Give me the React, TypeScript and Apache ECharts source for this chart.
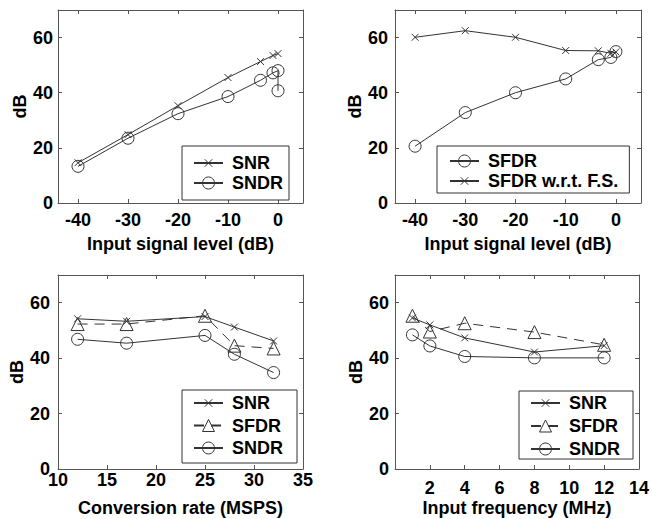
import React, { useEffect, useRef } from "react";
import * as echarts from "echarts";

// ---- data ----
const tlSnr: number[][] = [[-40, 14.6], [-30, 24.8], [-20, 35.3], [-10, 45.5], [-3.5, 51.3], [-1, 53.5], [0, 54.2]];
const tlSndr: number[][] = [[-40, 13.3], [-30, 23.5], [-20, 32.4], [-10, 38.6], [-3.5, 44.5], [-1, 47.2], [0, 48], [0, 40.7]];

const trSfdr: number[][] = [[-40, 20.6], [-30, 32.8], [-20, 40], [-10, 45], [-3.5, 52], [-1, 52.8], [0, 54.9]];
const trSfdrFs: number[][] = [[-40, 60.1], [-30, 62.5], [-20, 60.1], [-10, 55.3], [-3.5, 55.2], [-1, 54.3], [0, 54.8]];

const blSnr: number[][] = [[12, 54.2], [17, 53.3], [25, 55], [28, 51.2], [32, 46.2]];
const blSfdr: number[][] = [[12, 52.3], [17, 52.3], [25, 55.3], [28, 44.5], [32, 43.5]];
const blSndr: number[][] = [[12, 46.8], [17, 45.4], [25, 48.2], [28, 41.4], [32, 34.8]];

const brSnr: number[][] = [[1, 54.5], [2, 52], [4, 47.3], [8, 42.2], [12, 44.5]];
const brSfdr: number[][] = [[1, 55.3], [2, 49.6], [4, 52.6], [8, 49.4], [12, 44.8]];
const brSndr: number[][] = [[1, 48.4], [2, 44.4], [4, 40.6], [8, 40.1], [12, 40.1]];

const levelTicks = [-40, -30, -20, -10, 0];
const rateTicks = [10, 15, 20, 25, 30, 35];
const freqTicks = [2, 4, 6, 8, 10, 12, 14];
const dbTicks = [0, 20, 40, 60];

const FONT = "'Liberation Sans', Arial, Helvetica, sans-serif";
const AX = "#555";
const LN = "#333";
// cross drawn inside a padded box so the legend icon stays small
const CROSS = "path://M0 0M16 16M3 3L13 13M13 3L3 13";

export default function App() {
  const ref = useRef<HTMLDivElement>(null);
  useEffect(() => {
    if (!ref.current) return;
    const chart = echarts.init(ref.current, undefined, { renderer: "svg" });

    const grids = [
      { left: 58, top: 10, width: 245, height: 193 },
      { left: 395, top: 10, width: 246, height: 193 },
      { left: 58, top: 275, width: 245, height: 194 },
      { left: 395, top: 275, width: 246, height: 194 },
    ];
    const xCfg = [
      { min: -44, max: 5, ticks: levelTicks, name: "Input signal level (dB)", margin: 8, gap: 32 },
      { min: -44, max: 5, ticks: levelTicks, name: "Input signal level (dB)", margin: 8, gap: 32 },
      { min: 10, max: 35, ticks: rateTicks, name: "Conversion rate (MSPS)", margin: 2, gap: 30 },
      { min: 0, max: 14, ticks: freqTicks, name: "Input frequency (MHz)", margin: 10, gap: 30 },
    ];
    const yGap = [27, 28, 27, 28];
    const yMargin = [5, 7, 8, 6];

    const labelStyle = { fontSize: 18, fontWeight: "bold" as const, color: "#000", fontFamily: FONT };
    const nameStyle = { fontSize: 18, fontWeight: "bold" as const, color: "#000", fontFamily: FONT };

    const xAxis: any[] = [];
    const yAxis: any[] = [];
    xCfg.forEach((c, i) => {
      xAxis.push({
        type: "value", gridIndex: i, min: c.min, max: c.max, position: "bottom",
        axisLine: { show: true, onZero: false, lineStyle: { color: AX, width: 1 } },
        axisTick: { show: true, inside: true, length: 4, customValues: c.ticks, lineStyle: { color: AX } },
        axisLabel: { customValues: c.ticks, margin: c.margin, ...labelStyle },
        splitLine: { show: false },
        name: c.name, nameLocation: "middle", nameGap: c.gap, nameTextStyle: nameStyle,
      });
      yAxis.push({
        type: "value", gridIndex: i, min: 0, max: 70, position: "left",
        axisLine: { show: true, onZero: false, lineStyle: { color: AX, width: 1 } },
        axisTick: { show: true, inside: true, length: 4, customValues: dbTicks, lineStyle: { color: AX } },
        axisLabel: { customValues: dbTicks, margin: yMargin[i], ...labelStyle },
        splitLine: { show: false },
        name: "dB", nameLocation: "middle", nameGap: yGap[i], nameTextStyle: nameStyle,
      });
    });
    // mirror axes (frame top / right with inside ticks)
    xCfg.forEach((c, i) => {
      xAxis.push({
        type: "value", gridIndex: i, min: c.min, max: c.max, position: "top",
        axisLine: { show: true, onZero: false, lineStyle: { color: AX, width: 1 } },
        axisTick: { show: true, inside: true, length: 4, customValues: c.ticks, lineStyle: { color: AX } },
        axisLabel: { show: false },
        splitLine: { show: false },
      });
      yAxis.push({
        type: "value", gridIndex: i, min: 0, max: 70, position: "right",
        axisLine: { show: true, onZero: false, lineStyle: { color: AX, width: 1 } },
        axisTick: { show: true, inside: true, length: 4, customValues: dbTicks, lineStyle: { color: AX } },
        axisLabel: { show: false },
        splitLine: { show: false },
      });
    });

    const ser = (name: string, data: number[][], gi: number, symbol: string, size: number, dashed = false) => ({
      type: "line", name, xAxisIndex: gi, yAxisIndex: gi, data, symbol, symbolSize: size,
      showSymbol: true, showAllSymbol: true,
      lineStyle: { color: LN, width: 1, type: dashed ? [10, 7] : "solid" },
      itemStyle: { color: "transparent", borderColor: LN, borderWidth: 1 },
      emphasis: { disabled: true },
    });

    const series = [
      ser("SNR|a", tlSnr, 0, CROSS, 11),
      ser("SNDR|a", tlSndr, 0, "circle", 12),
      ser("SFDR|b", trSfdr, 1, "circle", 12),
      ser("SFDR w.r.t. F.S.|b", trSfdrFs, 1, CROSS, 11),
      ser("SNR|c", blSnr, 2, CROSS, 11),
      ser("SFDR|c", blSfdr, 2, "triangle", 13, true),
      ser("SNDR|c", blSndr, 2, "circle", 12),
      ser("SNR|d", brSnr, 3, CROSS, 11),
      ser("SFDR|d", brSfdr, 3, "triangle", 13, true),
      ser("SNDR|d", brSndr, 3, "circle", 12),
    ];

    const leg = (data: string[], left: number, top: number, padding: number[], itemGap: number) => ({
      data, left, top, orient: "vertical", padding, itemGap,
      formatter: (n: string) => n.split("|")[0],
      backgroundColor: "#fff", borderColor: "#333", borderWidth: 1, borderRadius: 0,
      itemWidth: 29, itemHeight: 15, selectedMode: false,
      itemStyle: { borderWidth: 1 },
      textStyle: { ...nameStyle, padding: [0, 0, 0, 4] },
    });

    chart.setOption({
      animation: false,
      backgroundColor: "#fff",
      grid: grids,
      xAxis,
      yAxis,
      series,
      legend: [
        leg(["SNR|a", "SNDR|a"], 182, 146, [8, 6, 8, 11], 2),
        leg(["SFDR|b", "SFDR w.r.t. F.S.|b"], 437, 146, [6, 11, 3, 12], 2),
        leg(["SNR|c", "SFDR|c", "SNDR|c"], 182, 390, [4, 14, 6, 11], 4.5),
        leg(["SNR|d", "SFDR|d", "SNDR|d"], 519, 391, [3, 13, 1, 11], 5),
      ],
    });
    return () => chart.dispose();
  }, []);
  return (
    <div
      ref={ref}
      style={{ position: "fixed", left: 0, top: 0, width: 652, height: 519, background: "#fff" }}
    />
  );
}
